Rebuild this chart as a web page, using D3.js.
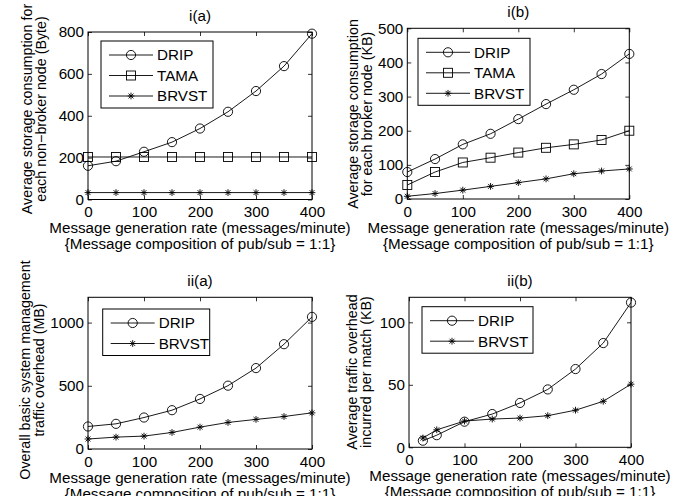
<!DOCTYPE html>
<html>
<head>
<meta charset="utf-8">
<script src="https://cdn.jsdelivr.net/npm/d3@7"></script>
<style>
  body { margin: 0; background: #fff; }
  svg { display: block; font-family: "Liberation Sans", Arial, sans-serif; }
</style>
</head>
<body>
<svg id="chart"></svg>
<script>
// ---------- data ----------
const rate = [0, 50, 100, 150, 200, 250, 300, 350, 400];
const rateMatch = [25, 50, 100, 150, 200, 250, 300, 350, 400];
const xTicks = [0, 100, 200, 300, 400];

// i(a) storage per non-broker node (Byte)
const dripNode = [161, 183, 228, 274, 339, 419, 518, 637, 792];
const tamaNode = [203, 203, 203, 203, 203, 203, 203, 203, 203];
const brvstNode = [33, 33, 33, 33, 33, 33, 33, 33, 33];
const ticksNode = [0, 200, 400, 600, 800];

// i(b) storage per broker node (KB)
const dripBroker = [79, 117, 160, 191, 234, 278, 320, 366, 425];
const tamaBroker = [41, 79, 107, 121, 136, 150, 160, 173, 200];
const brvstBroker = [8, 16, 26, 37, 48, 59, 74, 82, 88];
const ticksBroker = [0, 100, 200, 300, 400, 500];

// ii(a) overall management traffic (MB)
const dripTraffic = [178, 199, 249, 307, 396, 501, 640, 829, 1045];
const brvstTraffic = [79, 94, 102, 131, 173, 210, 234, 257, 286];
const ticksTraffic = [0, 500, 1000];

// ii(b) traffic per match (KB)
const dripMatch = [5.3, 9.7, 20.5, 26.6, 35.5, 46.3, 62.6, 83.4, 115.8];
const brvstMatch = [7.4, 14, 21, 22.6, 23.4, 25.3, 29.7, 36.8, 50.5];
const ticksMatch = [0, 50, 100];

const xLabel = ["Message generation rate (messages/minute)", "{Message composition of pub/sub = 1:1}"];

// ---------- layout ----------
const width = 697, height = 496;
const fs = 15.2;   // ticks, titles, legend, x label
const fsY = 14.3;  // y labels
const svg = d3.select("#chart").attr("width", width).attr("height", height);
svg.append("rect").attr("width", width).attr("height", height).attr("fill", "#fff");

const panels = [
  {
    title: "i(a)", left: 88, right: 312, top: 32, bottom: 199.5,
    yDomain: [0, 800], yTicks: ticksNode,
    yLabel: ["Average storage consumption for", "each non\u2212broker node (Byte)"],
    yLabelX: [32, 46], yLabelY: 109,
    series: [
      { name: "DRIP", x: rate, y: dripNode, marker: "circle" },
      { name: "TAMA", x: rate, y: tamaNode, marker: "square" },
      { name: "BRVST", x: rate, y: brvstNode, marker: "star" }
    ],
    legend: { x: 101, y: 41, w: 112 }
  },
  {
    title: "i(b)", left: 407.3, right: 629.3, top: 28.3, bottom: 199,
    yDomain: [0, 500], yTicks: ticksBroker,
    yLabel: ["Average storage consumption", "for each broker node (KB)"],
    yLabelX: [358, 372], yLabelY: 114,
    series: [
      { name: "DRIP", x: rate, y: dripBroker, marker: "circle" },
      { name: "TAMA", x: rate, y: tamaBroker, marker: "square" },
      { name: "BRVST", x: rate, y: brvstBroker, marker: "star" }
    ],
    legend: { x: 418, y: 38.3, w: 112 }
  },
  {
    title: "ii(a)", left: 88, right: 312, top: 297.3, bottom: 449,
    yDomain: [0, 1200], yTicks: ticksTraffic,
    yLabel: ["Overall basic system management", "traffic overhead (MB)"],
    yLabelX: [29.5, 43.5], yLabelY: 370,
    series: [
      { name: "DRIP", x: rate, y: dripTraffic, marker: "circle" },
      { name: "BRVST", x: rate, y: brvstTraffic, marker: "star" }
    ],
    legend: { x: 102.7, y: 309, w: 107 }
  },
  {
    title: "ii(b)", left: 409, right: 631, top: 297.3, bottom: 447.3,
    yDomain: [0, 120], yTicks: ticksMatch,
    yLabel: ["Average traffic overhead", "incurred per match (KB)"],
    yLabelX: [357, 371], yLabelY: 372,
    series: [
      { name: "DRIP", x: rateMatch, y: dripMatch, marker: "circle" },
      { name: "BRVST", x: rateMatch, y: brvstMatch, marker: "star" }
    ],
    legend: { x: 422, y: 306.7, w: 111 }
  }
];

// ---------- markers ----------
function drawMarker(sel, type, cx, cy) {
  if (type === "circle") {
    sel.append("circle").attr("cx", cx).attr("cy", cy).attr("r", 4.6)
      .attr("fill", "none").attr("stroke", "#000").attr("stroke-width", 0.9);
  } else if (type === "square") {
    sel.append("rect").attr("x", cx - 4.5).attr("y", cy - 4.5)
      .attr("width", 9).attr("height", 9)
      .attr("fill", "none").attr("stroke", "#000").attr("stroke-width", 0.9);
  } else {
    const r = 3.4, d = r * 0.72;
    sel.append("path")
      .attr("d", `M${cx - r},${cy}H${cx + r}M${cx},${cy - r}V${cy + r}` +
                 `M${cx - d},${cy - d}L${cx + d},${cy + d}M${cx - d},${cy + d}L${cx + d},${cy - d}`)
      .attr("stroke", "#000").attr("stroke-width", 0.9).attr("fill", "none");
  }
}

function styleAxis(g) {
  g.select(".domain").remove();
  g.attr("font-family", null).attr("font-size", fs);
  g.selectAll(".tick line").attr("stroke", "#000").attr("stroke-width", 0.8);
  g.selectAll(".tick text").attr("fill", "#000");
}

// ---------- draw ----------
panels.forEach((p) => {
  const x = d3.scaleLinear().domain([0, 400]).range([p.left, p.right]);
  const y = d3.scaleLinear().domain(p.yDomain).range([p.bottom, p.top]);
  const g = svg.append("g");

  g.append("g").attr("transform", `translate(0,${p.bottom})`)
    .call(d3.axisBottom(x).tickValues(xTicks).tickSize(-4).tickPadding(7).tickFormat(d3.format("d")))
    .call(styleAxis);
  g.append("g").attr("transform", `translate(0,${p.top})`)
    .call(d3.axisTop(x).tickValues(xTicks).tickSize(-4).tickFormat(""))
    .call(styleAxis);
  g.append("g").attr("transform", `translate(${p.left},0)`)
    .call(d3.axisLeft(y).tickValues(p.yTicks).tickSize(-4).tickPadding(4).tickFormat(d3.format("d")))
    .call(styleAxis);
  g.append("g").attr("transform", `translate(${p.right},0)`)
    .call(d3.axisRight(y).tickValues(p.yTicks).tickSize(-4).tickFormat(""))
    .call(styleAxis);

  g.append("rect")
    .attr("x", p.left).attr("y", p.top)
    .attr("width", p.right - p.left).attr("height", p.bottom - p.top)
    .attr("fill", "none").attr("stroke", "#000").attr("stroke-width", 1);

  // series
  p.series.forEach((s) => {
    const pts = s.x.map((v, i) => [x(v), y(s.y[i])]);
    g.append("path")
      .attr("d", d3.line()(pts))
      .attr("fill", "none").attr("stroke", "#000").attr("stroke-width", 0.9);
    const mg = g.append("g");
    pts.forEach(([px, py]) => drawMarker(mg, s.marker, px, py));
  });

  // legend
  const L = p.legend;
  const rowH = 20.5;
  const lg = g.append("g");
  lg.append("rect")
    .attr("x", L.x).attr("y", L.y)
    .attr("width", L.w).attr("height", p.series.length * rowH + 5.5)
    .attr("fill", "#fff").attr("stroke", "#000").attr("stroke-width", 1);
  p.series.forEach((s, i) => {
    const ry = L.y + 14 + i * rowH;
    lg.append("line").attr("x1", L.x + 8).attr("x2", L.x + 52)
      .attr("y1", ry).attr("y2", ry).attr("stroke", "#000").attr("stroke-width", 0.9);
    drawMarker(lg, s.marker, L.x + 30, ry);
    lg.append("text").attr("x", L.x + 56).attr("y", ry + 5.4)
      .attr("font-size", fs).text(s.name);
  });

  // title
  const cx = (p.left + p.right) / 2;
  g.append("text").attr("x", cx).attr("y", p.top - 11)
    .attr("text-anchor", "middle").attr("font-size", fs).text(p.title);

  // x label
  xLabel.forEach((t, i) => {
    g.append("text").attr("x", cx).attr("y", p.bottom + 33.5 + i * 16)
      .attr("text-anchor", "middle").attr("font-size", fs).text(t);
  });

  // y label
  p.yLabel.forEach((t, i) => {
    g.append("text")
      .attr("transform", `translate(${p.yLabelX[i]},${p.yLabelY}) rotate(-90)`)
      .attr("text-anchor", "middle").attr("font-size", fsY).text(t);
  });
});
</script>
</body>
</html>
